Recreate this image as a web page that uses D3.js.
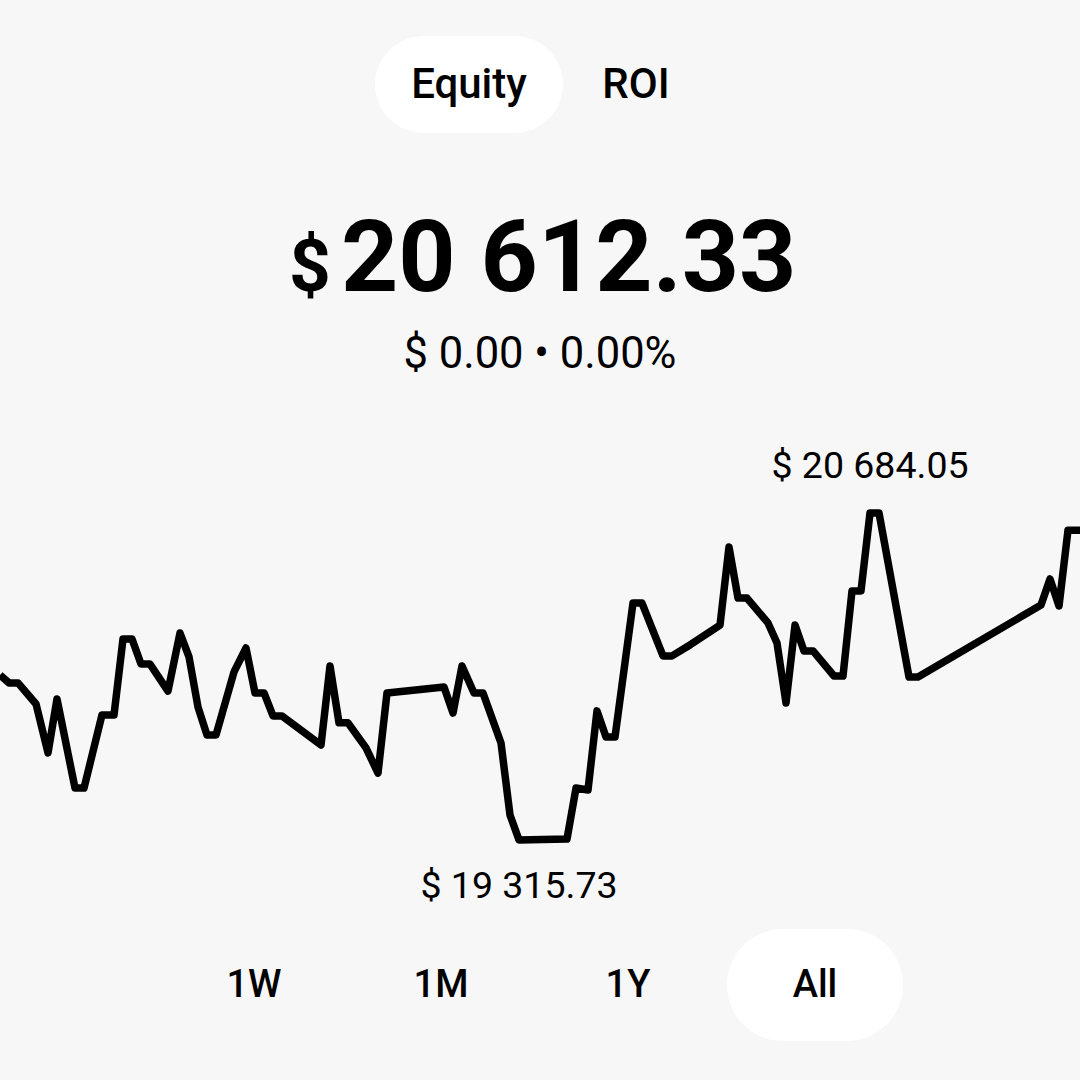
<!DOCTYPE html>
<html>
<head>
<meta charset="utf-8">
<script src="https://cdn.jsdelivr.net/npm/d3@7"></script>
<style>
  html, body { margin: 0; padding: 0; background: #f7f7f7; }
  svg { display: block; font-family: Roboto, "Noto Sans", sans-serif; }
</style>
</head>
<body>
<div id="chart"></div>
<script>
// equity history: day index and account value in $
var days = [0, 3, 6, 12, 16, 19, 25, 28, 34, 38, 41, 44, 47, 50, 56, 60, 63, 66, 69, 72,
  78, 82, 85, 88, 91, 94, 107, 110, 113, 116, 122, 126, 129, 148, 151, 154, 158, 161, 167, 170,
  173, 189, 192, 196, 199, 202, 205, 211, 214, 221, 224, 230, 240, 243, 246, 249, 256, 259, 262, 265,
  268, 271, 278, 281, 284, 287, 290, 293, 303, 306, 347, 350, 353, 356, 360];
var equity = [20006, 19973, 19973, 19885, 19680, 19906, 19533, 19533, 19839, 19839,
  20157, 20157, 20052, 20052, 19939, 20182, 20082, 19872, 19755, 19755,
  20019, 20119, 19931, 19931, 19835, 19835, 19713, 20044, 19806, 19806,
  19701, 19596, 19931, 19956, 19847, 20044, 19931, 19931, 19722, 19420,
  19315.73, 19320, 19533, 19525, 19856, 19747, 19747, 20307, 20307, 20086,
  20086, 20132, 20215, 20542, 20328, 20328, 20224, 20140, 19889, 20215,
  20107, 20107, 20002, 20002, 20358, 20358, 20684.05, 20684.05, 19998, 19998,
  20299, 20408, 20295, 20612.33, 20612.33];

var tabs = ["Equity", "ROI"];
var ranges = ["1W", "1M", "1Y", "All"];
var current = 20612.33;
var change = "$ 0.00 \u2022 0.00%";

var W = 1080, H = 1080;
var svg = d3.select("#chart").append("svg")
    .attr("width", W)
    .attr("height", H);

svg.append("rect").attr("width", W).attr("height", H).attr("fill", "#f7f7f7");

function money(v) {
    var s = v.toFixed(2).split(".");
    return s[0].replace(/\B(?=(\d{3})+(?!\d))/g, " ") + "." + s[1];
}

// top toggle
var tabX = d3.scalePoint().domain(tabs).range([469, 636]);
svg.append("rect")
    .attr("x", 375).attr("y", 36)
    .attr("width", 188).attr("height", 97)
    .attr("rx", 48.5)
    .attr("fill", "#fff");
svg.selectAll(".tab").data(tabs).enter().append("text")
    .attr("class", "tab")
    .attr("x", function (d) { return tabX(d); })
    .attr("y", 98)
    .attr("text-anchor", "middle")
    .attr("font-size", 42)
    .attr("font-weight", 500)
    .attr("fill", "#000")
    .text(function (d) { return d; });

// headline value
svg.append("text")
    .attr("x", 331).attr("y", 291)
    .attr("text-anchor", "end")
    .attr("font-size", 73)
    .attr("font-weight", 700)
    .text("$");
svg.append("text")
    .attr("x", 341).attr("y", 291)
    .attr("font-size", 100)
    .attr("font-weight", 700)
    .text(money(current));

svg.append("text")
    .attr("x", 540).attr("y", 368)
    .attr("text-anchor", "middle")
    .attr("font-size", 43.5)
    .text(change);

// line chart
var x = d3.scaleLinear().domain([0, 360]).range([0, 1080]);
var y = d3.scaleLinear().domain([d3.min(equity), d3.max(equity)]).range([840, 513]);

var pts = days.map(function (d, i) { return [d, equity[i]]; });

svg.append("path")
    .datum(pts)
    .attr("fill", "none")
    .attr("stroke", "#000")
    .attr("stroke-width", 7.5)
    .attr("stroke-linejoin", "round")
    .attr("d", d3.line()
        .x(function (d) { return x(d[0]); })
        .y(function (d) { return y(d[1]); }));

var iMin = d3.minIndex(equity), iMax = d3.maxIndex(equity);
svg.append("text")
    .attr("x", x(days[iMin]))
    .attr("y", y(equity[iMin]) + 58)
    .attr("text-anchor", "middle")
    .attr("font-size", 37.5)
    .text("$ " + money(equity[iMin]));
svg.append("text")
    .attr("x", x(days[iMax]))
    .attr("y", y(equity[iMax]) - 35)
    .attr("text-anchor", "middle")
    .attr("font-size", 37.5)
    .text("$ " + money(equity[iMax]));

// range buttons
var rx = d3.scalePoint().domain(ranges).range([254, 815]);
svg.append("rect")
    .attr("x", rx("All") - 88).attr("y", 929)
    .attr("width", 176).attr("height", 112)
    .attr("rx", 56)
    .attr("fill", "#fff");
svg.selectAll(".range").data(ranges).enter().append("text")
    .attr("class", "range")
    .attr("x", function (d) { return rx(d); })
    .attr("y", 997)
    .attr("text-anchor", "middle")
    .attr("font-size", 38)
    .attr("font-weight", 500)
    .text(function (d) { return d; });
</script>
</body>
</html>
